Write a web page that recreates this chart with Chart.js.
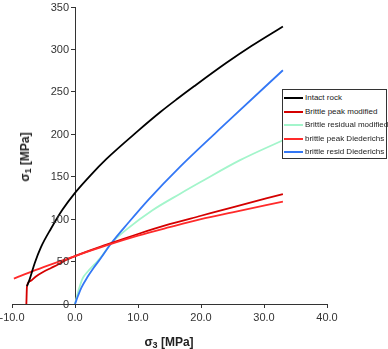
<!DOCTYPE html>
<html>
<head>
<meta charset="utf-8">
<script src="https://cdn.jsdelivr.net/npm/chart.js@4.4.1/dist/chart.umd.min.js"></script>
<style>
  html, body { margin: 0; padding: 0; background: #fff; }
  #wrap { position: relative; width: 388px; height: 349px; font-family: "Liberation Sans", Arial, sans-serif; }
  #c { position: absolute; left: 0; top: 0; }
  .ytitle { position: absolute; left: 25px; top: 157px; transform: translate(-50%, -50%) rotate(-90deg); font-weight: bold; font-size: 12px; color: #222; white-space: nowrap; }
  .xtitle { position: absolute; left: 169px; top: 342px; transform: translate(-50%, -50%); font-weight: bold; font-size: 12px; color: #222; white-space: nowrap; }
  sub { font-size: 75%; vertical-align: -2px; line-height: 0; }
  #legend { position: absolute; left: 282px; top: 89px; width: 103px; height: 68px; border: 1px solid #333; background: #fff; }
  .row { position: absolute; left: 0; height: 12px; width: 103px; font-size: 8px; color: #222; white-space: nowrap; }
  .sw { position: absolute; left: 1px; top: 5px; width: 19px; height: 2px; }
  .lbl { position: absolute; left: 22px; top: 0; line-height: 12px; }
</style>
</head>
<body>
<div id="wrap">
  <canvas id="c" width="388" height="349"></canvas>
  <div class="ytitle">σ<sub>1</sub> [MPa]</div>
  <div class="xtitle">σ<sub>3</sub> [MPa]</div>
  <div id="legend"></div>
</div>
<script>
// ---- data ----
const seriesNames = ["Intact rock", "Brittle peak modified", "Brittle residual modified", "brittle peak Diederichs", "brittle resid Diederichs"];
const seriesColors = ["#000000", "#d40000", "#a3f5cb", "#ff2a2a", "#3377f5"];

const intactX = [-7.62, -7.2, -6.4, -5.4, -3.8, -2.0, 0, 2.5, 5, 10, 13.6, 16.2, 18.9, 24.1, 28, 33];
const intactY = [21, 29, 48, 67, 89, 111, 131, 152, 171, 204, 226.5, 241.5, 256.5, 284.5, 304, 327];

const peakModX = [-7.72, -7.62, -7.1, -6.2, -5.0, -3.8, -2.7, -1.5, 0, 5, 10, 15, 20, 25, 33];
const peakModY = [0, 21, 27, 32.5, 38, 42.5, 46.5, 51.5, 56.5, 70, 82.5, 94, 104, 114, 129.6];

const residModX = [0, 0.6, 1.2, 2, 3, 4, 5.7, 8.3, 12.3, 16.7, 20, 26.2, 33];
const residModY = [0, 17, 30, 38, 46, 54, 71, 88.5, 110.5, 130, 144, 169.5, 193];

const peakDiedX = [-9.7, -5, 0, 5, 10, 15, 20, 25, 33];
const peakDiedY = [30, 43.5, 56.5, 69, 80.5, 90.5, 100, 108, 120.6];

const residDiedX = [0, 0.5, 1, 2, 3, 4, 5.7, 8.5, 11.6, 16.7, 24.4, 33];
const residDiedY = [0, 10, 19, 32, 43, 53, 71, 96, 122.5, 162, 216, 275.5];

const xTickValues = [-10, 0, 10, 20, 30, 40];
const xTickLabels = ["-10.0", "0.0", "10.0", "20.0", "30.0", "40.0"];
const yTickValues = [0, 50, 100, 150, 200, 250, 300, 350];
const yTickLabels = ["0", "50", "100", "150", "200", "250", "300", "350"];

// ---- build ----
function pts(xs, ys) { return xs.map((x, i) => ({ x: x, y: ys[i] })); }
const allX = [intactX, peakModX, residModX, peakDiedX, residDiedX];
const allY = [intactY, peakModY, residModY, peakDiedY, residDiedY];
const drawOrder = [1, 3, 5, 2, 4];

const datasets = seriesNames.map((name, i) => ({
  label: name,
  data: pts(allX[i], allY[i]),
  borderColor: seriesColors[i],
  backgroundColor: seriesColors[i],
  borderWidth: 1.8,
  pointRadius: 0,
  showLine: true,
  fill: false,
  cubicInterpolationMode: 'monotone',
  order: drawOrder[i]
}));

const tickFont = { family: "'Liberation Sans', Arial, sans-serif", size: 11 };

// y tick labels drawn left of the y axis (which crosses at x = 0)
const yLabelPlugin = {
  id: 'yLabels',
  afterDraw(chart) {
    const xs = chart.scales.x, ys = chart.scales.y, ctx = chart.ctx;
    const ax = xs.getPixelForValue(0);
    ctx.save();
    ctx.font = "11px 'Liberation Sans', Arial, sans-serif";
    ctx.fillStyle = '#333';
    ctx.textAlign = 'right';
    ctx.textBaseline = 'middle';
    ys.ticks.forEach(t => {
      const k = yTickValues.indexOf(t.value);
      if (k >= 0) ctx.fillText(yTickLabels[k], ax - 6, ys.getPixelForValue(t.value) + 0.5);
    });
    ctx.restore();
  }
};

new Chart(document.getElementById('c'), {
  type: 'scatter',
  data: { datasets: datasets },
  plugins: [yLabelPlugin],
  options: {
    responsive: false,
    animation: false,
    devicePixelRatio: 1,
    layout: { padding: { left: 12, right: 61, top: 7, bottom: 0 } },
    plugins: { legend: { display: false }, tooltip: { enabled: false } },
    scales: {
      x: {
        type: 'linear', position: 'bottom', min: -10, max: 40,
        afterBuildTicks: (s) => { s.ticks = xTickValues.map(v => ({ value: v })); },
        ticks: { color: '#333', font: tickFont, padding: 3, maxRotation: 0,
          callback: (v) => { const k = xTickValues.indexOf(v); return k >= 0 ? xTickLabels[k] : ''; } },
        grid: { display: true, drawOnChartArea: false, drawTicks: true, tickLength: 4, color: '#333' },
        border: { display: true, color: '#333', width: 1 },
        title: { display: false },
        afterFit: (s) => { s.paddingLeft = 0; s.paddingRight = 0; s.height = 45; }
      },
      y: {
        type: 'linear', position: { x: 0 }, min: 0, max: 350,
        afterBuildTicks: (s) => { s.ticks = yTickValues.map(v => ({ value: v })); },
        ticks: { display: false },
        grid: { display: true, drawOnChartArea: false, drawTicks: true, tickLength: 4, color: '#333' },
        border: { display: true, color: '#333', width: 1 },
        title: { display: false }
      }
    }
  }
});

// HTML legend built from the same names/colours
const lg = document.getElementById('legend');
const rowTops = [2, 15.5, 29, 42.5, 56];
seriesNames.forEach((name, i) => {
  const r = document.createElement('div');
  r.className = 'row';
  r.style.top = rowTops[i] + 'px';
  r.innerHTML = '<div class="sw" style="background:' + seriesColors[i] + '"></div><span class="lbl"></span>';
  r.querySelector('.lbl').textContent = name;
  lg.appendChild(r);
});
</script>
</body>
</html>
